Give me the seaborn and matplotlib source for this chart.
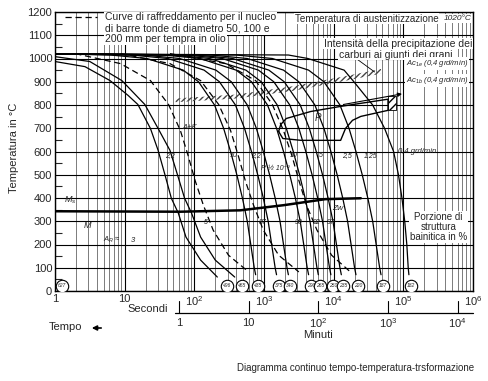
import numpy as np
import pandas as pd
import matplotlib
matplotlib.use("Agg")
import matplotlib.pyplot as plt
from matplotlib.ticker import LogLocator, NullFormatter, MultipleLocator
import matplotlib.transforms as mtransforms
import seaborn as sns

# temperature levels (deg C) at which the solid cooling curves were read
levels_T = [1020, 1015, 1000, 950, 900, 800, 700, 600, 500, 400, 300, 200, 100, 70]

# log10(time / s) of each solid curve at those levels
c3 = [0.00, 0.80, 1.32, 1.84, 2.06, 2.29, 2.42, 2.52, 2.61, 2.69, 2.76, 2.81, 2.86, 2.88]
c4 = [0.00, 1.10, 1.62, 2.14, 2.36, 2.59, 2.72, 2.82, 2.91, 2.99, 3.06, 3.11, 3.16, 3.18]
c5 = [0.00, 1.27, 1.79, 2.31, 2.53, 2.76, 2.89, 2.99, 3.08, 3.16, 3.23, 3.28, 3.33, 3.35]
c6 = [0.00, 1.56, 2.08, 2.60, 2.82, 3.05, 3.18, 3.28, 3.37, 3.45, 3.52, 3.57, 3.62, 3.64]
c7 = [0.00, 1.70, 2.22, 2.74, 2.96, 3.19, 3.32, 3.42, 3.51, 3.59, 3.66, 3.71, 3.76, 3.78]
c8 = [0.00, 1.88, 2.40, 2.92, 3.14, 3.37, 3.50, 3.60, 3.69, 3.77, 3.84, 3.89, 3.94, 3.96]
c9 = [0.00, 2.03, 2.55, 3.07, 3.29, 3.52, 3.65, 3.75, 3.84, 3.92, 3.99, 4.04, 4.09, 4.11]
c10 = [0.00, 2.24, 2.76, 3.28, 3.50, 3.73, 3.86, 3.96, 4.05, 4.13, 4.20, 4.25, 4.30, 4.32]
c11 = [0.00, 2.60, 3.12, 3.64, 3.86, 4.09, 4.22, 4.32, 4.41, 4.49, 4.56, 4.61, 4.66, 4.68]
c12 = [0.00, 3.35, 3.63, 4.15, 4.29, 4.56, 4.73, 4.86, 4.93, 4.98, 5.02, 5.05, 5.07, 5.08]

# the two fastest curves, starting below the austenitising line
s1_T = [987, 965, 905, 841, 802, 699, 605, 498, 399, 335, 232, 133, 60]
s1_logt = [0.00, 0.43, 0.79, 1.05, 1.19, 1.37, 1.48, 1.58, 1.67, 1.77, 1.88, 2.09, 2.33]
s2_T = [1008, 987, 905, 802, 699, 605, 498, 399, 335, 232, 133, 60]
s2_logt = [0.00, 0.50, 0.96, 1.29, 1.48, 1.65, 1.76, 1.86, 1.96, 2.09, 2.30, 2.58]

# dashed core curves of 50, 100, 200 mm bars
dash_T = [1021, 978, 905, 802, 690, 583, 476, 369, 262, 154, 82]
d50 = [0.29, 0.94, 1.37, 1.63, 1.80, 1.91, 2.01, 2.13, 2.27, 2.49, 2.78]
d100 = [0.94, 1.65, 2.09, 2.35, 2.52, 2.63, 2.73, 2.85, 2.99, 3.21, 3.50]
d200 = [1.65, 2.45, 2.88, 3.12, 3.28, 3.40, 3.50, 3.61, 3.76, 3.97, 4.24]

# Ms / bainite end line
ms_logt = [0.00, 1.80, 2.66, 3.28, 3.88, 4.39]
ms_T = [343, 341, 347, 369, 395, 399]

# pearlite field outline
p_logt = [3.21, 3.24, 3.32, 3.67, 4.10, 4.78, 4.78, 4.39, 4.27, 4.17, 4.10, 3.53, 3.27, 3.21]
p_T = [686, 716, 742, 772, 794, 825, 777, 751, 734, 699, 648, 648, 656, 686]

# carbide precipitation band
band_logt = [1.73, 2.60, 3.40, 4.10, 4.68]
band_lo = [812, 828, 860, 900, 935]
band_hi = [828, 845, 880, 920, 955]

# hardness circles at the curve ends
hv_logt = [0.10, 2.47, 2.69, 2.91, 3.21, 3.38, 3.67, 3.81, 3.99, 4.14, 4.35, 4.71, 5.11]
hv_text = ["627", "496", "465", "435", "375", "340", "290", "265", "250",
           "235", "220", "187", "182"]

# rate labels along the 600 degC line
rate_logt = [1.65, 2.56, 2.89, 3.42, 3.81, 4.19, 4.53]
rate_text = ["2,2", "10", "2,2", "10", "5", "2,5", "1,25"]
# bainite share labels
bain_logt = [2.17, 2.98, 3.50, 3.76, 3.96]
bain_text = ["5", "87", "90", "92", "97"]

# minute scale under the time axis
min_ticks = [1, 10, 100, 1000, 10000]
min_labels = ["1", "10", "$10^2$", "$10^3$", "$10^4$"]

sns.set_theme(style="white")
plt.rcParams['font.family'] = ['Liberation Sans', 'DejaVu Sans']
plt.rcParams['mathtext.fontset'] = 'custom'
plt.rcParams['mathtext.rm'] = 'Liberation Sans'
plt.rcParams['mathtext.it'] = 'Liberation Sans:italic'

rows = []
for name, lt in [("c3", c3), ("c4", c4), ("c5", c5), ("c6", c6), ("c7", c7), ("c8", c8),
                 ("c9", c9), ("c10", c10), ("c11", c11), ("c12", c12)]:
    for i, (a, b) in enumerate(zip(lt, levels_T)):
        rows.append((name, i, 10 ** a, b))
for i, (a, b) in enumerate(zip(s1_logt, s1_T)):
    rows.append(("s1", i, 10 ** a, b))
for i, (a, b) in enumerate(zip(s2_logt, s2_T)):
    rows.append(("s2", i, 10 ** a, b))
solid = pd.DataFrame(rows, columns=["curve", "i", "t", "T"])

rows = []
for name, lt in [("d50", d50), ("d100", d100), ("d200", d200)]:
    for i, (a, b) in enumerate(zip(lt, dash_T)):
        rows.append((name, i, 10 ** a, b))
dashed = pd.DataFrame(rows, columns=["curve", "i", "t", "T"])

fig = plt.figure(figsize=(4.89, 3.81), dpi=100)
ax = fig.add_axes([55 / 489, 1 - 291 / 381, 418 / 489, 279 / 381])

ax.set_xscale('log')
ax.set_xlim(1, 1e6)
ax.set_ylim(0, 1200)

# grid
ax.set_yticks(range(0, 1300, 100))
ax.yaxis.set_minor_locator(MultipleLocator(50))
ax.xaxis.set_minor_locator(LogLocator(base=10, subs=range(2, 10), numticks=20))
ax.xaxis.set_minor_formatter(NullFormatter())
ax.grid(axis='y', which='major', color='black', lw=0.8)
ax.grid(axis='x', which='major', color='black', lw=0.8)
ax.grid(axis='x', which='minor', color='#333333', lw=0.45)
ax.set_axisbelow(True)

sns.lineplot(data=solid, x="t", y="T", units="curve", estimator=None, sort=False,
             color="black", lw=0.9, ax=ax)
sns.lineplot(data=dashed, x="t", y="T", units="curve", estimator=None, sort=False,
             color="black", lw=0.9, linestyle=(0, (5, 3)), ax=ax)

ms_t = [10 ** v for v in ms_logt]
ax.plot(ms_t, ms_T, color="black", lw=1.8)

ax.plot([10 ** v for v in p_logt], p_T, color="black", lw=1.0)
ax.annotate("", xy=(10 ** 5.02, 850), xytext=(10 ** 4.10, 800),
            arrowprops=dict(arrowstyle="-|>", color="black", lw=0.8, mutation_scale=6))
ax.fill_between([10 ** 4.78, 10 ** 4.90], 777, 837, facecolor="white",
                edgecolor="black", hatch="////", lw=0.6)

ax.fill_between([10 ** v for v in band_logt], band_lo, band_hi, facecolor="none",
                edgecolor="#444444", hatch="//////", lw=0)
ax.annotate("", xy=(10 ** 4.62, 935), xytext=(10 ** 4.30, 1005),
            arrowprops=dict(arrowstyle="-", color="black", lw=0.6))

# hardness circles
hv_t = [10 ** v for v in hv_logt]
sns.scatterplot(x=hv_t, y=[22] * len(hv_t), s=80, facecolor="white",
                edgecolor="black", linewidth=0.8, ax=ax, zorder=5)
for t, s in zip(hv_t, hv_text):
    ax.text(t, 22, s, fontsize=3.6, ha="center", va="center", zorder=6, style="italic")

for v, s in zip(rate_logt, rate_text):
    ax.text(10 ** v, 583, s, fontsize=5, style="italic", ha="center", va="center",
            color="#222222")
ax.text(10 ** 4.92, 600, "0,4 grd/min", fontsize=5.5, style="italic", ha="left", va="center")
for v, s in zip(bain_logt, bain_text):
    ax.text(10 ** v, 296, s, fontsize=5, style="italic", ha="center", va="center",
            color="#222222")

ax.text(10 ** 1.94, 703, "A+K", fontsize=5.5, style="italic", ha="center", va="center")
ax.text(10 ** 3.78, 746, "P", fontsize=7, style="italic", ha="center", va="center")
ax.text(10 ** 4.06, 356, "Zw", fontsize=6, style="italic", ha="center", va="center")
ax.text(10 ** 3.17, 528, "R ½ 10⁻²", fontsize=5, style="italic", ha="center", va="center",
        color="#222222")
ax.text(10 ** 0.22, 392, "M$_s$", fontsize=6.5, style="italic", ha="center", va="center")
ax.text(10 ** 0.46, 283, "M", fontsize=6.5, style="italic", ha="center", va="center")
ax.text(10 ** 0.82, 219, "A$_R$ ≈", fontsize=5.5, style="italic", ha="center", va="center")
ax.text(10 ** 1.12, 219, "3", fontsize=5.5, style="italic", ha="center", va="center")

box = dict(facecolor="white", edgecolor="none", pad=0.6)
ax.text(10 ** 0.72, 1177, "Curve di raffreddamento per il nucleo", fontsize=7.5,
        ha="left", va="center", bbox=box)
ax.text(10 ** 0.72, 1127, "di barre tonde di diametro 50, 100 e", fontsize=7.5,
        ha="left", va="center", bbox=box)
ax.text(10 ** 0.72, 1083, "200 mm per tempra in olio", fontsize=7.5,
        ha="left", va="center", bbox=box)
ax.plot([10 ** 0.14, 10 ** 0.60], [1177, 1177], color="black", lw=0.9,
        linestyle=(0, (5, 3)), zorder=6)

ax.text(10 ** 3.44, 1172, "Temperatura di austenitizzazione", fontsize=7.1,
        ha="left", va="center", bbox=box)
ax.text(10 ** 5.98, 1172, "1020°C", fontsize=6, style="italic",
        ha="right", va="center", bbox=box)
ax.text(10 ** 4.92, 1064, "Intensità della precipitazione dei", fontsize=7.5,
        ha="center", va="center", bbox=box)
ax.text(10 ** 4.89, 1017, "carburi ai giunti dei grani", fontsize=7.5,
        ha="center", va="center", bbox=box)
ax.text(10 ** 5.04, 978, "Ac$_{1e}$ (0,4 grd/min)", fontsize=5.5, style="italic",
        ha="left", va="center", bbox=box)
ax.text(10 ** 5.04, 905, "Ac$_{1b}$ (0,4 grd/min)", fontsize=5.5, style="italic",
        ha="left", va="center", bbox=box)
ax.text(10 ** 5.50, 275, "Porzione di\nstruttura\nbainitica in %", fontsize=7,
        ha="center", va="center", linespacing=1.0, bbox=box)

# axis ticks and labels
ax.set_xticks([1, 10, 100, 1e3, 1e4, 1e5, 1e6])
ax.set_xticklabels(["1", "10", "$10^2$", "$10^3$", "$10^4$", "$10^5$", "$10^6$"])
ax.set_yticklabels([str(v) for v in range(0, 1300, 100)])
ax.tick_params(axis='both', which='major', labelsize=8, length=0, pad=2)
ax.tick_params(axis='y', which='minor', direction='in', length=5, width=0.8, left=True)
ax.set_xlabel("")
ax.set_ylabel("")
for sp in ax.spines.values():
    sp.set_color("black")
    sp.set_linewidth(1.0)

# minute scale drawn as a second baseline (x in data, y in axes fraction)
trans = mtransforms.blended_transform_factory(ax.transData, ax.transAxes)
y_min_axis = -22 / 279
ax.plot([53, 1e6], [y_min_axis, y_min_axis], color="black", lw=0.9,
        transform=trans, clip_on=False)
for m, lab in zip(min_ticks, min_labels):
    ax.plot([m * 60, m * 60], [y_min_axis, y_min_axis + 12 / 279], color="black",
            lw=0.8, transform=trans, clip_on=False)
    ax.text(m * 60, y_min_axis - 10 / 279, lab, fontsize=8, ha="center", va="center",
            transform=trans, clip_on=False)

fig.text(0.029, 0.612, "Temperatura in °C", rotation=90, fontsize=8, ha="center", va="center")
fig.text(148 / 489, 1 - 309 / 381, "Secondi", fontsize=8, ha="center", va="center")
fig.text(66 / 489, 1 - 327 / 381, "Tempo", fontsize=8, ha="center", va="center")
ax.annotate("", xy=(89 / 489, 1 - 328 / 381), xytext=(104 / 489, 1 - 328 / 381),
            xycoords="figure fraction", textcoords="figure fraction",
            arrowprops=dict(arrowstyle="-|>", color="black", lw=1.2, mutation_scale=7))
fig.text(318 / 489, 1 - 335 / 381, "Minuti", fontsize=8, ha="center", va="center")
fig.text(356 / 489, 1 - 368 / 381, "Diagramma continuo tempo-temperatura-trsformazione",
         fontsize=7, ha="center", va="center")

fig.savefig("out.png", dpi=100)
